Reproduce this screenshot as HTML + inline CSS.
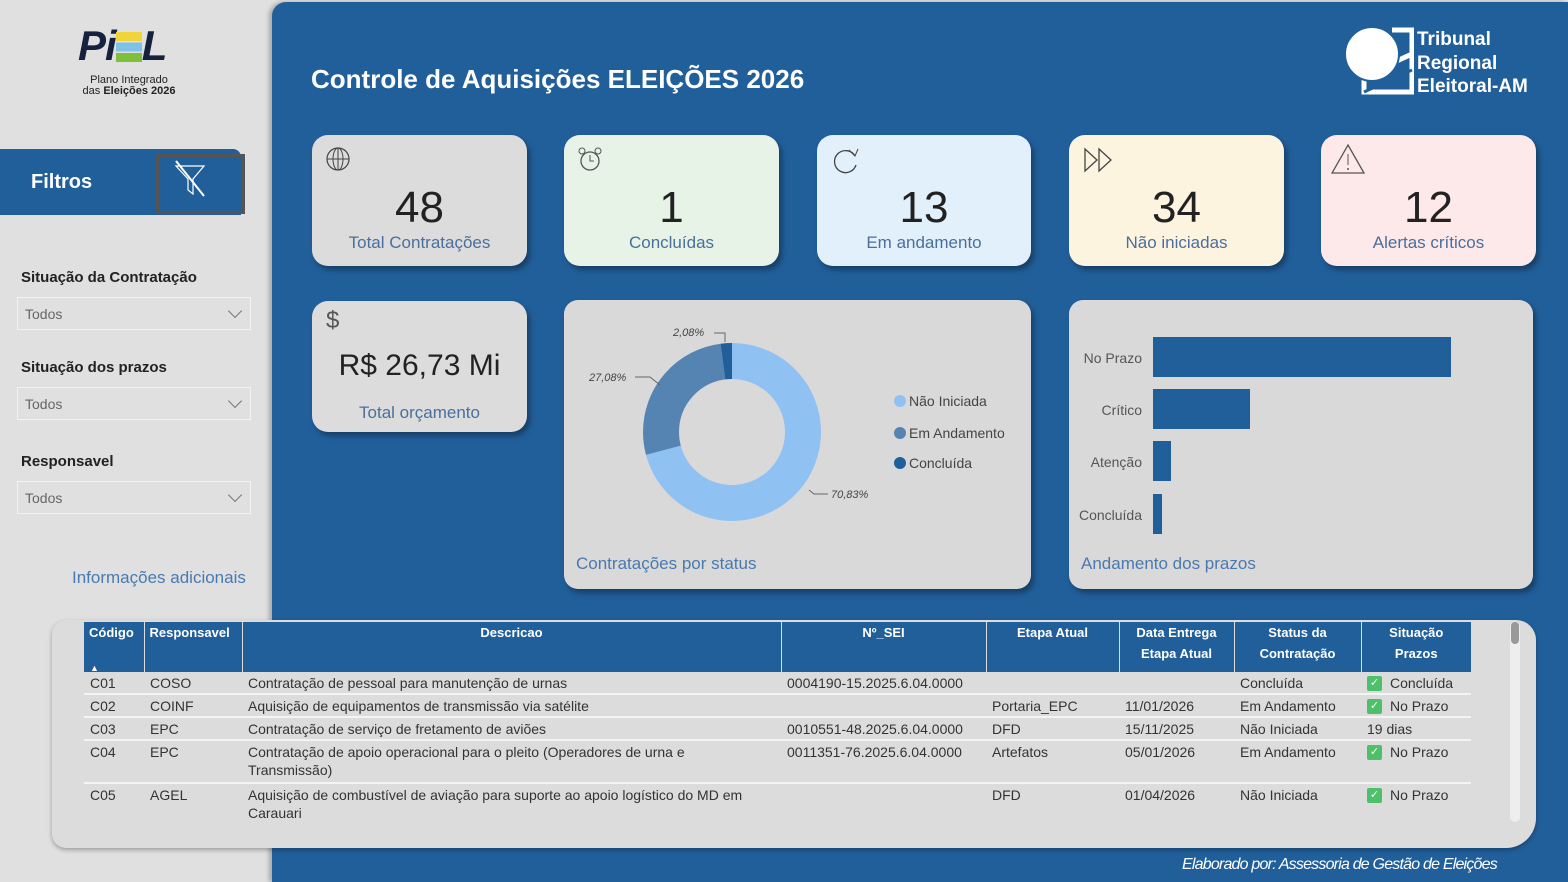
<!DOCTYPE html>
<html><head><meta charset="utf-8"><style>
*{margin:0;padding:0;box-sizing:border-box}
body{width:1568px;height:882px;overflow:hidden;background:#e0e0e0;font-family:"Liberation Sans",sans-serif;position:relative}
.a{position:absolute}
.main{left:272px;top:2px;width:1296px;height:880px;background:#215f9b;border-top-left-radius:14px;box-shadow:-3px 0 4px rgba(0,0,0,.25)}
.card{position:absolute;border-radius:16px;box-shadow:3px 4px 6px rgba(0,0,0,.35);text-align:center}
.card .n{position:absolute;left:0;right:0;top:48px;font-size:44px;color:#222}
.card .l{position:absolute;left:0;right:0;top:98px;font-size:17px;color:#4a6f9c}
.ic{position:absolute;left:14px;top:12px}
.sel{position:absolute;left:17px;width:234px;height:33px;border:1px solid #f2f2f2;font-size:14px;color:#666;padding:8px 7px}
.sel:after{content:"";position:absolute;right:10px;top:8px;width:9px;height:9px;border-right:1px solid #777;border-bottom:1px solid #777;transform:rotate(45deg)}
.lab{position:absolute;left:21px;font-size:15px;font-weight:bold;color:#222}
table{border-collapse:collapse;font-size:14px;color:#333}
th{background:#215f9b;color:#fff;font-size:13px;font-weight:bold;vertical-align:top;padding:0 5px;border-left:1px solid #dcdcdc;line-height:21px;height:50px}
td{padding:2px 6px 1px;vertical-align:top;border-bottom:2px solid #f4f4f4;line-height:18px;height:22px;overflow:hidden;white-space:nowrap}
.ck{display:inline-block;width:15px;height:15px;background:#4fc06a;color:#fff;font-size:11px;line-height:15px;text-align:center;border-radius:2px;margin-right:8px;vertical-align:top;margin-top:2px}
</style></head><body>
<div class="a" style="left:78px;top:22px;font-size:42px;font-weight:900;font-style:italic;color:#16213d;letter-spacing:-1px">P<span style="font-size:42px">i</span><span style="display:inline-block;width:26px;height:30px;vertical-align:-2px;background:linear-gradient(#f1d33a 0 30%,transparent 30% 35%,#7fc2e8 35% 65%,transparent 65% 70%,#7fbf3a 70%)"></span>L</div>
<div class="a" style="left:74px;top:75px;width:110px;text-align:center;font-size:11px;line-height:11px;color:#222">Plano Integrado<br>das <b>Eleições 2026</b></div>
<div class="a" style="left:0;top:149px;width:241px;height:66px;background:#215f9b;border-top-right-radius:8px"></div>
<div class="a" style="left:31px;top:171px;color:#fff;font-weight:bold;font-size:20px">Filtros</div>
<div class="a" style="left:156px;top:154px;width:89px;height:60px;border:3px solid #555;background:#215f9b"></div>
<svg class="a" style="left:172px;top:160px" width="36" height="38"><path d="M4 6 H32 L21 19 V34 L16 30 V19 Z" fill="none" stroke="#fff" stroke-width="1.2"/><line x1="4" y1="1" x2="32" y2="36" stroke="#fff" stroke-width="2"/></svg>
<div class="lab" style="top:269px">Situação da Contratação</div>
<div class="sel" style="top:297px">Todos</div>
<div class="lab" style="top:359px">Situação dos prazos</div>
<div class="sel" style="top:387px">Todos</div>
<div class="lab" style="top:453px">Responsavel</div>
<div class="sel" style="top:481px">Todos</div>
<div class="a" style="left:72px;top:568px;font-size:17px;color:#4a79b0">Informações adicionais</div>

<div class="a main"></div>
<div class="a" style="left:311px;top:64px;font-size:26px;color:#fff;font-weight:bold">Controle de Aquisições ELEIÇÕES 2026</div>
<svg class="a" style="left:1344px;top:24px" width="70" height="72"><path d="M48 6 H68 V68 H20 V52 L68 30" fill="none" stroke="#fff" stroke-width="5"/><circle cx="28" cy="30" r="27" fill="#fff" stroke="#215f9b" stroke-width="2"/><path d="M20 68 L68 46" stroke="#215f9b" stroke-width="3"/></svg>
<div class="a" style="left:1417px;top:28px;color:#fff;font-weight:bold;font-size:19px;line-height:23.5px">Tribunal<br>Regional<br>Eleitoral-AM</div>

<div class="card" style="left:312px;top:135px;width:215px;height:131px;background:#dcdcdc"><svg class="ic" width="26" height="26"><circle cx="12" cy="12" r="11" fill="none" stroke="#444" stroke-width="1.2"/><ellipse cx="12" cy="12" rx="5" ry="11" fill="none" stroke="#444"/><line x1="1" y1="12" x2="23" y2="12" stroke="#444"/><line x1="12" y1="1" x2="12" y2="23" stroke="#444"/></svg><div class="n">48</div><div class="l">Total Contratações</div></div>
<div class="card" style="left:564px;top:135px;width:215px;height:131px;background:#e6f3e6"><svg class="ic" width="28" height="28"><circle cx="12" cy="14" r="9" fill="none" stroke="#555" stroke-width="1.3"/><path d="M12 8 V14 H16" fill="none" stroke="#555"/><circle cx="4" cy="4" r="3" fill="none" stroke="#555"/><circle cx="20" cy="4" r="3" fill="none" stroke="#555"/></svg><div class="n">1</div><div class="l">Concluídas</div></div>
<div class="card" style="left:817px;top:135px;width:214px;height:131px;background:#e2f0fc"><svg class="ic" width="30" height="30"><path d="M24 9 A11 11 0 1 0 25 18" fill="none" stroke="#444" stroke-width="1.3"/><path d="M18 3 L24 9 L27 2" fill="none" stroke="#444"/></svg><div class="n">13</div><div class="l">Em andamento</div></div>
<div class="card" style="left:1069px;top:135px;width:215px;height:131px;background:#fdf4e0"><svg class="ic" width="34" height="28"><path d="M2 2 L14 13 L2 24 Z M16 2 L28 13 L16 24 Z" fill="none" stroke="#444" stroke-width="1.3"/></svg><div class="n">34</div><div class="l">Não iniciadas</div></div>
<div class="card" style="left:1321px;top:135px;width:215px;height:131px;background:#fde8ea"><svg class="ic" style="left:10px;top:8px" width="36" height="32"><path d="M17 2 L33 30 H1 Z" fill="none" stroke="#555" stroke-width="1.3"/><line x1="17" y1="11" x2="17" y2="22" stroke="#555"/><circle cx="17" cy="26" r="1" fill="#555"/></svg><div class="n">12</div><div class="l">Alertas críticos</div></div>

<div class="card" style="left:312px;top:301px;width:215px;height:131px;background:#dcdcdc"><div class="a" style="left:14px;top:6px;font-size:24px;color:#555">$</div><div class="n" style="top:48px;font-size:30px">R$ 26,73 Mi</div><div class="l" style="top:102px">Total orçamento</div></div>

<div class="card" style="left:564px;top:300px;width:467px;height:289px;background:#d9d9d9;border-radius:14px;text-align:left">
<svg class="a" style="left:0;top:0" width="467" height="289">
<g transform="rotate(-90 168 132)">
<circle cx="168" cy="132" r="71" fill="none" stroke="#8fc2f3" stroke-width="36" stroke-dasharray="316 446.1"/>
<circle cx="168" cy="132" r="71" fill="none" stroke="#5583b2" stroke-width="36" stroke-dasharray="0 316 120.8 446.1"/>
<circle cx="168" cy="132" r="71" fill="none" stroke="#215f9b" stroke-width="36" stroke-dasharray="0 436.8 9.3 446.1"/>
</g>
<g font-family="Liberation Sans" font-size="11" font-style="italic" fill="#444">
<text x="109" y="36">2,08%</text><path d="M150 33 H161 V42" fill="none" stroke="#666"/>
<text x="25" y="81">27,08%</text><path d="M71 77 H86 L96 85" fill="none" stroke="#666"/>
<text x="267" y="198">70,83%</text><path d="M245 190 L250 194 H264" fill="none" stroke="#666"/>
</g>
<g font-family="Liberation Sans" font-size="14" fill="#444">
<circle cx="336" cy="101" r="6" fill="#8fc2f3"/><text x="345" y="106">Não Iniciada</text>
<circle cx="336" cy="133" r="6" fill="#5583b2"/><text x="345" y="138">Em Andamento</text>
<circle cx="336" cy="163" r="6" fill="#215f9b"/><text x="345" y="168">Concluída</text>
</g>
<text x="12" y="269" font-family="Liberation Sans" font-size="17" fill="#4a79b0">Contratações por status</text>
</svg></div>

<div class="card" style="left:1069px;top:300px;width:464px;height:289px;background:#d9d9d9;border-radius:14px;text-align:left">
<svg class="a" style="left:0;top:0" width="464" height="289">
<g fill="#215f9b"><rect x="84" y="37" width="298" height="40"/><rect x="84" y="89" width="97" height="40"/><rect x="84" y="141" width="18" height="40"/><rect x="84" y="194" width="9" height="40"/></g>
<g font-family="Liberation Sans" font-size="14" fill="#555" text-anchor="end"><text x="73" y="63">No Prazo</text><text x="73" y="115">Crítico</text><text x="73" y="167">Atenção</text><text x="73" y="220">Concluída</text></g>
<text x="12" y="269" font-family="Liberation Sans" font-size="17" fill="#4a79b0">Andamento dos prazos</text>
</svg></div>

<div class="a" style="left:52px;top:620px;width:1484px;height:228px;background:#dcdcdc;border-radius:14px 20px 30px 14px;box-shadow:0 2px 5px rgba(0,0,0,.3)"></div>
<div class="a" style="left:1510px;top:622px;width:10px;height:200px;background:#eee;border-radius:5px"><div style="width:8px;margin-left:1px;height:22px;background:#999;border-radius:4px"></div></div>
<table class="a" style="left:84px;top:622px;width:1387px;table-layout:fixed">
<colgroup><col style="width:60px"><col style="width:98px"><col style="width:539px"><col style="width:205px"><col style="width:133px"><col style="width:115px"><col style="width:127px"><col style="width:110px"></colgroup>
<tr><th style="text-align:left;border-left:none;position:relative">Código<span style="position:absolute;left:6px;top:36px;font-size:9px">▲</span></th><th style="text-align:left">Responsavel</th><th>Descricao</th><th>Nº_SEI</th><th>Etapa Atual</th><th>Data Entrega<br>Etapa Atual</th><th>Status da<br>Contratação</th><th>Situação<br>Prazos</th></tr>
<tr><td>C01</td><td>COSO</td><td>Contratação de pessoal para manutenção de urnas</td><td>0004190-15.2025.6.04.0000</td><td></td><td></td><td>Concluída</td><td><span class="ck">✓</span>Concluída</td></tr>
<tr><td>C02</td><td>COINF</td><td>Aquisição de equipamentos de transmissão via satélite</td><td></td><td>Portaria_EPC</td><td>11/01/2026</td><td>Em Andamento</td><td><span class="ck">✓</span>No Prazo</td></tr>
<tr><td>C03</td><td>EPC</td><td>Contratação de serviço de fretamento de aviões</td><td>0010551-48.2025.6.04.0000</td><td>DFD</td><td>15/11/2025</td><td>Não Iniciada</td><td>19 dias</td></tr>
<tr><td style="height:43px">C04</td><td>EPC</td><td>Contratação de apoio operacional para o pleito (Operadores de urna e<br>Transmissão)</td><td>0011351-76.2025.6.04.0000</td><td>Artefatos</td><td>05/01/2026</td><td>Em Andamento</td><td><span class="ck">✓</span>No Prazo</td></tr>
<tr><td style="border:none;height:43px">C05</td><td style="border:none">AGEL</td><td style="border:none">Aquisição de combustível de aviação para suporte ao apoio logístico do MD em<br>Carauari</td><td style="border:none"></td><td style="border:none">DFD</td><td style="border:none">01/04/2026</td><td style="border:none">Não Iniciada</td><td style="border:none"><span class="ck">✓</span>No Prazo</td></tr>
</table>
<div class="a" style="left:1182px;top:856px;color:#fff;font-size:16px;font-style:italic;letter-spacing:-0.8px">Elaborado por: Assessoria de Gestão de Eleições</div>
</body></html>
